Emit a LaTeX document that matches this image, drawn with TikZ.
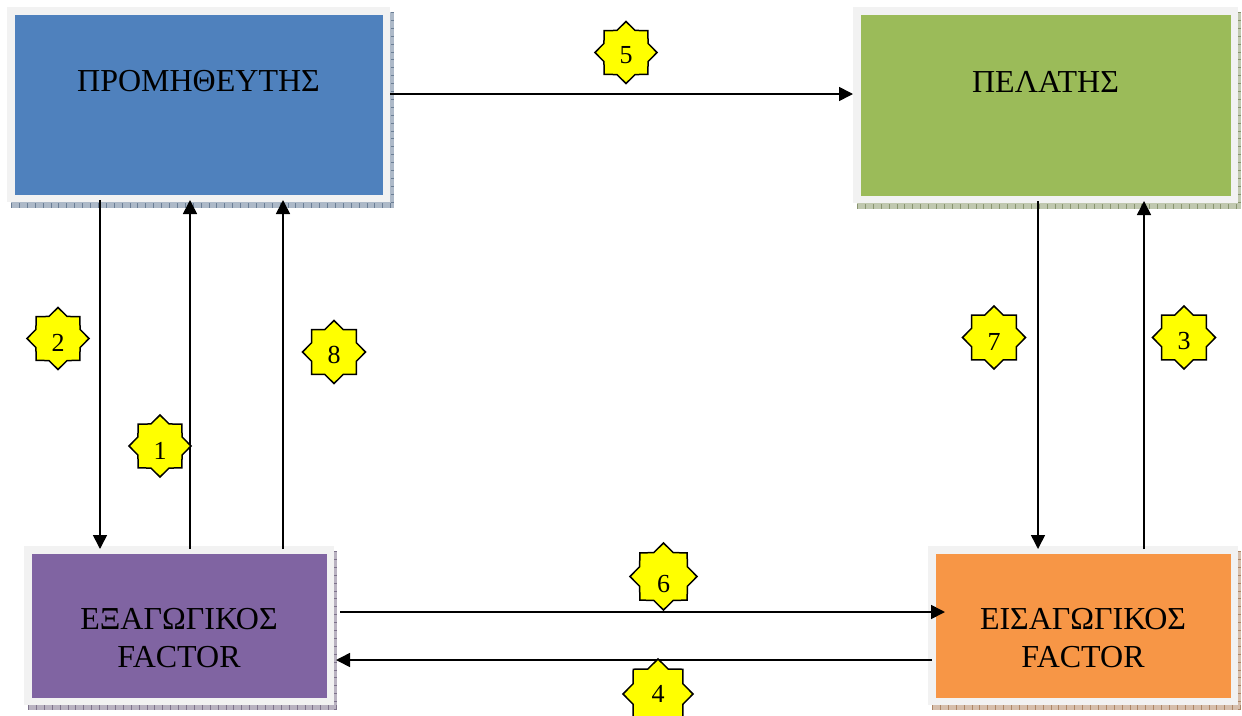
\documentclass[tikz,border=0pt]{standalone}
\usepackage{fontspec}
\setmainfont{Liberation Serif}
\usetikzlibrary{shapes.geometric,arrows.meta,calc}
\definecolor{cblue}{HTML}{4F81BD}
\definecolor{cgreen}{HTML}{9BBB59}
\definecolor{cpurple}{HTML}{8064A2}
\definecolor{corange}{HTML}{F79646}
\definecolor{rim}{HTML}{F2F2F2}
\definecolor{starfill}{HTML}{FFFF00}
\tikzset{
  box/.style={draw=rim, line width=7.5pt, inner sep=0pt, fill=#1},
  boxtext/.style={font=\fontsize{32}{38}\selectfont, align=center, inner sep=0pt},
  arr/.style={line width=1.6pt, -{Triangle[length=14pt,width=14pt]}},
  starbox/.style={star, star points=8, star point ratio=1.3, fill=starfill,
    draw=black, line width=1.5pt, inner sep=0pt, minimum size=#1},
  digit/.style={font=\fontsize{26}{26}\selectfont, inner sep=0pt},
  shadefill/.style={fill=#1!45!gray!55!white},
  shadeticks/.style={draw=#1!55!black!70!white, dash pattern=on 0.9pt off 7pt},
}
\newcommand{\boxshadow}[5]{%
  \fill[shadefill=#1] (#2,#3) rectangle (#4,#5);
  \draw[shadeticks=#1, line width=5pt] (#2,#5-2.5) -- (#4,#5-2.5);
  \draw[shadeticks=#1, line width=3.5pt] (#4-1.75,#3) -- (#4-1.75,#5);
}
\begin{document}
\begin{tikzpicture}[x=1pt,y=-1pt]
\useasboundingbox[fill=white] (0,0) rectangle (1242,715);

% shadows
\boxshadow{cblue}{11}{12}{394}{208}
\boxshadow{cgreen}{857}{12}{1241}{209}
\boxshadow{cpurple}{28}{551}{337}{710}
\boxshadow{corange}{932}{551}{1241}{710}

% boxes
\node[box=cblue, minimum width=375.5pt, minimum height=187.5pt,
  label={[boxtext, yshift=23.5pt]center:ΠΡΟΜΗΘΕΥΤΗΣ}] (prom) at (198.5,104.5) {};
\node[box=cgreen, minimum width=377.5pt, minimum height=188.5pt,
  label={[boxtext, yshift=23.5pt]center:ΠΕΛΑΤΗΣ}] (pel) at (1045.5,105) {};
\node[box=cpurple, minimum width=302.5pt, minimum height=151.5pt,
  label={[boxtext, yshift=-12.5pt]center:ΕΞΑΓΩΓΙΚΟΣ\\FACTOR}] (exf) at (179,625.5) {};
\node[box=corange, minimum width=302.5pt, minimum height=151.5pt,
  label={[boxtext, yshift=-12.5pt]center:ΕΙΣΑΓΩΓΙΚΟΣ\\FACTOR}] (imf) at (1083,625.5) {};

% connectors
\draw[arr] ([yshift=10.5pt]prom.east) -- ([yshift=10.5pt]prom.east -| pel.west);
\draw[arr, shorten >=-3pt] ([xshift=93pt,yshift=2pt]prom.south west) -- ([xshift=93pt]prom.south west |- exf.north);
\draw[arr, shorten >=-2pt] ([xshift=166pt,yshift=-3pt]exf.north west) -- ([xshift=166pt]exf.north west |- prom.south);
\draw[arr, shorten >=-2pt] ([xshift=259pt,yshift=-3pt]exf.north west) -- ([xshift=259pt]exf.north west |- prom.south);
\draw[arr, shorten >=-3pt] ([xshift=185pt,yshift=2pt]pel.south west) -- ([xshift=185pt]pel.south west |- imf.north);
\draw[arr, shorten >=-2pt] ([xshift=216pt,yshift=-3pt]imf.north west) -- ([xshift=216pt]imf.north west |- pel.south);
\draw[arr, shorten >=-11pt] ([xshift=6pt,yshift=13.5pt]exf.east) -- ([xshift=6pt,yshift=13.5pt]exf.east -| imf.west);
\draw[arr, shorten >=-2pt] ([xshift=4pt,yshift=-34.5pt]imf.west) -- ([xshift=4pt,yshift=-34.5pt]imf.west -| exf.east);

% numbered stars
\node[starbox=62pt] (s5) at (626,52.5) {};
\node[digit] (d5) at ([yshift=-3pt]s5.center) {5};
\node[starbox=62pt] (s2) at (58,338.5) {};
\node[digit] (d2) at ([yshift=-4pt]s2.center) {2};
\node[starbox=63pt] (s8) at (334,352) {};
\node[digit] (d8) at ([yshift=-3pt]s8.center) {8};
\node[starbox=63pt] (s7) at (994,337.5) {};
\node[digit] (d7) at ([yshift=-4pt]s7.center) {7};
\node[starbox=63pt] (s3) at (1184,337.5) {};
\node[digit] (d3) at ([yshift=-4pt]s3.center) {3};
\node[starbox=62pt] (s1) at (160,446) {};
\node[digit] (d1) at ([yshift=-5pt]s1.center) {1};
\node[starbox=67pt] (s6) at (663.5,576.5) {};
\node[digit] (d6) at ([yshift=-8pt]s6.center) {6};
\node[starbox=70pt] (s4) at (658,694) {};
\node[digit] (d4) at (s4.center) {4};
\end{tikzpicture}
\end{document}
